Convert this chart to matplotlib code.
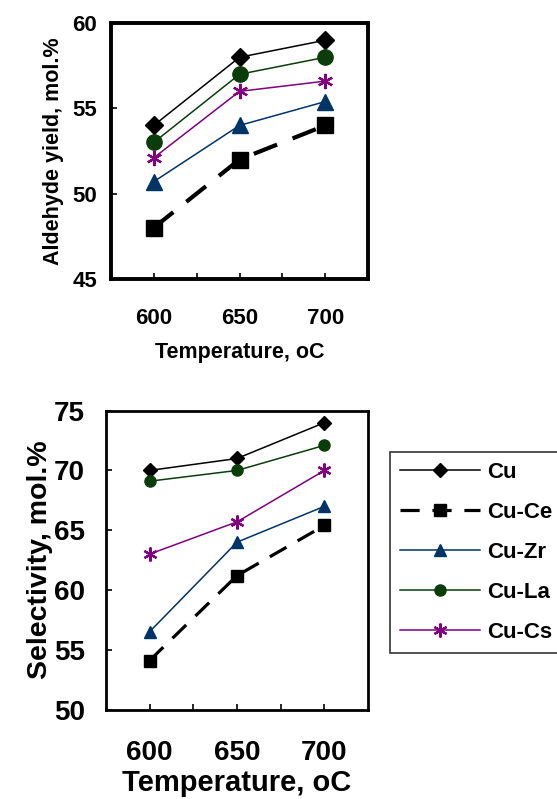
import matplotlib
matplotlib.use("Agg")
import matplotlib.pyplot as plt
from matplotlib.ticker import FixedLocator

plt.rcParams['font.family'] = ['Liberation Sans', 'DejaVu Sans']
plt.rcParams['font.weight'] = 'bold'

temps = [600, 650, 700]
series = ['Cu', 'Cu-Ce', 'Cu-Zr', 'Cu-La', 'Cu-Cs']

# aldehyde yield, mol.%
yield_cu = [54.0, 58.0, 59.0]
yield_ce = [48.0, 52.0, 54.0]
yield_zr = [50.7, 54.0, 55.4]
yield_la = [53.0, 57.0, 58.0]
yield_cs = [52.1, 56.0, 56.6]

# selectivity, mol.%
sel_cu = [70.0, 71.0, 74.0]
sel_ce = [54.1, 61.2, 65.4]
sel_zr = [56.5, 64.0, 67.0]
sel_la = [69.1, 70.0, 72.1]
sel_cs = [63.0, 65.7, 70.0]

colors = ['black', 'black', '#003366', '#0a3d0a', '#800080']
markers = ['D', 's', '^', 'o', (6, 2, 0)]

fig = plt.figure(figsize=(5.57, 7.99), dpi=100)
ax1 = fig.add_axes([0.199, 0.651, 0.462, 0.320])
ax2 = fig.add_axes([0.190, 0.112, 0.471, 0.374])


def draw(ax, data, big):
    handles = []
    for name, vals, c, m in zip(series, data, colors, markers):
        if name == 'Cu-Ce':
            lw = 3.0 if big else 2.3
            ls = (0, (6, 4))
        else:
            lw = 1.1
            ls = '-'
        if name == 'Cu-Cs':
            ms = 11 if big else 10
            mew = 1.6
        elif name == 'Cu':
            ms = 9 if big else 7
            mew = 1
        else:
            ms = 11 if big else 8
            mew = 1
        h, = ax.plot(temps, vals, color=c, lw=lw, linestyle=ls,
                     marker=m, markersize=ms, markerfacecolor=c,
                     markeredgecolor=c, markeredgewidth=mew, label=name)
        handles.append(h)
    ax.set_xlim(575, 725)
    ax.xaxis.set_major_locator(FixedLocator(temps))
    ax.xaxis.set_minor_locator(FixedLocator([625, 675]))
    return handles


draw(ax1, [yield_cu, yield_ce, yield_zr, yield_la, yield_cs], True)
ax1.set_ylim(45, 60)
ax1.set_yticks([45, 50, 55, 60])
ax1.tick_params(axis='both', which='both', direction='in', length=4, width=1.2)
ax1.tick_params(axis='x', pad=21, labelsize=16)
ax1.tick_params(axis='y', pad=10, labelsize=16)
for s in ax1.spines.values():
    s.set_linewidth(2.8)
ax1.set_xlabel('Temperature, oC', fontsize=15.5, fontweight='bold', labelpad=9)
ax1.set_ylabel('Aldehyde yield, mol.%', fontsize=15.5, fontweight='bold', labelpad=6)

handles = draw(ax2, [sel_cu, sel_ce, sel_zr, sel_la, sel_cs], False)
ax2.set_ylim(50, 75)
ax2.set_yticks([50, 55, 60, 65, 70, 75])
ax2.tick_params(axis='both', which='both', direction='in', length=4, width=1.2)
ax2.tick_params(axis='x', pad=22, labelsize=20)
ax2.tick_params(axis='y', pad=15, labelsize=20)
for s in ax2.spines.values():
    s.set_linewidth(2)
ax2.set_xlabel('Temperature, oC', fontsize=21, fontweight='bold', labelpad=2)
ax2.set_ylabel('Selectivity, mol.%', fontsize=20.5, fontweight='bold', labelpad=1)

leg = fig.legend(handles=handles, loc='upper left', bbox_to_anchor=(390 / 557, 1 - 452 / 799),
                 borderaxespad=0, fontsize=16, handlelength=3.6, handletextpad=0.3,
                 labelspacing=0.85, borderpad=0.45, frameon=True, fancybox=False,
                 edgecolor='black')
leg.get_frame().set_linewidth(1.2)
for t in leg.get_texts():
    t.set_fontweight('bold')

fig.savefig('out.png', dpi=100)
